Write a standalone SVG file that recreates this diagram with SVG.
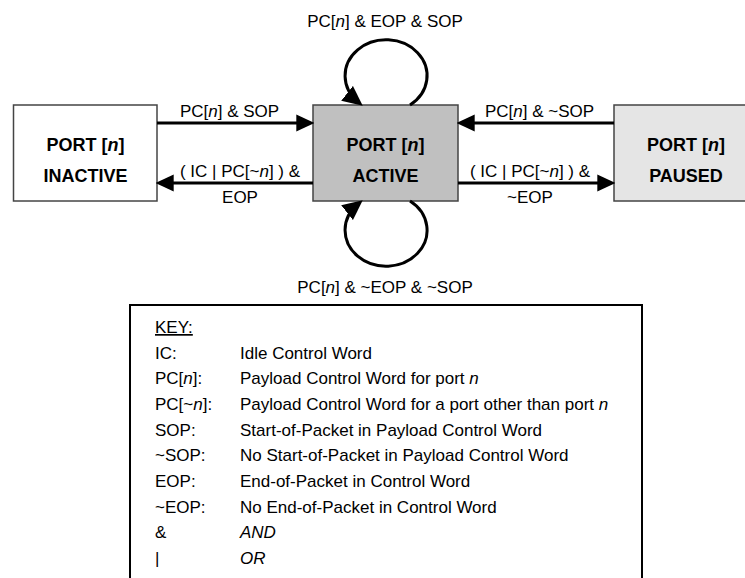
<svg xmlns="http://www.w3.org/2000/svg" width="745" height="578" viewBox="0 0 745 578">
<style>
text{font-family:"Liberation Sans",Arial,sans-serif;fill:#000}
.lbl{font-size:17px;text-anchor:middle}
.ttl{font-size:18px;font-weight:bold;text-anchor:middle}
.key{font-size:17px}
.box{stroke:#444;stroke-width:1.5}
.arr{fill:none;stroke:#000;stroke-width:3}
</style>
<defs>
<marker id="ah" markerUnits="userSpaceOnUse" markerWidth="18" markerHeight="18" viewBox="0 0 17 16" refX="12" refY="8" orient="auto"><path d="M0,0 L17,8 L0,16 z" fill="#000"/></marker>
<marker id="ahl" markerUnits="userSpaceOnUse" markerWidth="20" markerHeight="20" viewBox="0 0 19 18" refX="14" refY="9" orient="auto"><path d="M0,0 L19,9 L0,18 z" fill="#000"/></marker>
</defs>
<g id="inactive">
<rect class="box" x="13.5" y="105" width="143.5" height="96" fill="#fff"/>
<text class="ttl" x="85.5" y="151">PORT [<tspan font-style="italic">n</tspan>]</text>
<text class="ttl" x="85.5" y="182">INACTIVE</text>
</g>
<g id="active">
<rect class="box" x="313" y="105" width="145" height="96" fill="#c0c0c0"/>
<text class="ttl" x="385.5" y="151">PORT [<tspan font-style="italic">n</tspan>]</text>
<text class="ttl" x="385.5" y="182">ACTIVE</text>
</g>
<g id="paused">
<rect class="box" x="614" y="105" width="144" height="96" fill="#e5e5e5"/>
<text class="ttl" x="686" y="151">PORT [<tspan font-style="italic">n</tspan>]</text>
<text class="ttl" x="686" y="182">PAUSED</text>
</g>
<g id="connectors">
<path class="arr" d="M157,123 H309" marker-end="url(#ah)"/>
<path class="arr" d="M313,183 H161" marker-end="url(#ah)"/>
<path class="arr" d="M614,123 H462" marker-end="url(#ah)"/>
<path class="arr" d="M458,183 H610" marker-end="url(#ah)"/>
<path class="arr" d="M410,105 A41,36 0 1 0 358.6,102.5" marker-end="url(#ahl)"/>
<path class="arr" d="M410,201 A41,36 0 1 1 358.6,203.5" marker-end="url(#ahl)"/>
<text class="lbl" x="385" y="27">PC[<tspan font-style="italic">n</tspan>] &amp; EOP &amp; SOP</text>
<text class="lbl" x="229.5" y="117">PC[<tspan font-style="italic">n</tspan>] &amp; SOP</text>
<text class="lbl" x="240" y="177">( IC | PC[~<tspan font-style="italic">n</tspan>] ) &amp;</text>
<text class="lbl" x="240" y="203">EOP</text>
<text class="lbl" x="539.5" y="117">PC[<tspan font-style="italic">n</tspan>] &amp; ~SOP</text>
<text class="lbl" x="530" y="177">( IC | PC[~<tspan font-style="italic">n</tspan>] ) &amp;</text>
<text class="lbl" x="530" y="203">~EOP</text>
<text class="lbl" x="385" y="293">PC[<tspan font-style="italic">n</tspan>] &amp; ~EOP &amp; ~SOP</text>
</g>
<g id="key">
<path d="M130,580 V305 H642 V580" fill="none" stroke="#000" stroke-width="2"/>
<text class="key" x="155" y="333" text-decoration="underline">KEY:</text>
<text class="key" x="155" y="358.7">IC:</text>
<text class="key" x="240" y="358.7">Idle Control Word</text>
<text class="key" x="155" y="384.3">PC[<tspan font-style="italic">n</tspan>]:</text>
<text class="key" x="240" y="384.3">Payload Control Word for port <tspan font-style="italic">n</tspan></text>
<text class="key" x="155" y="410">PC[~<tspan font-style="italic">n</tspan>]:</text>
<text class="key" x="240" y="410">Payload Control Word for a port other than port <tspan font-style="italic">n</tspan></text>
<text class="key" x="155" y="435.7">SOP:</text>
<text class="key" x="240" y="435.7">Start-of-Packet in Payload Control Word</text>
<text class="key" x="155" y="461.3">~SOP:</text>
<text class="key" x="240" y="461.3">No Start-of-Packet in Payload Control Word</text>
<text class="key" x="155" y="487">EOP:</text>
<text class="key" x="240" y="487">End-of-Packet in Control Word</text>
<text class="key" x="155" y="512.7">~EOP:</text>
<text class="key" x="240" y="512.7">No End-of-Packet in Control Word</text>
<text class="key" x="155" y="538.3">&amp;</text>
<text class="key" x="240" y="538.3" font-style="italic">AND</text>
<text class="key" x="155" y="564">|</text>
<text class="key" x="240" y="564" font-style="italic">OR</text>
</g>
</svg>
